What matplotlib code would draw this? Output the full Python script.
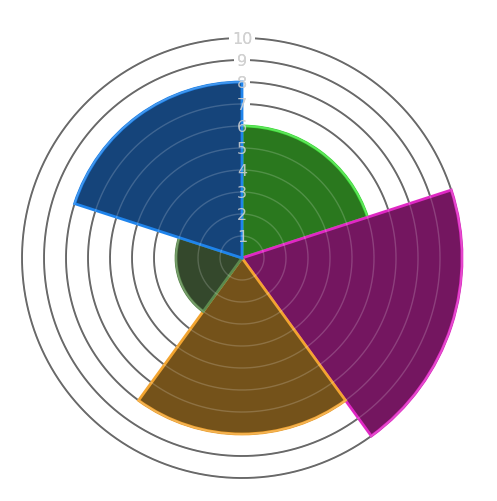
import numpy as np
import matplotlib.pyplot as plt

values = [6, 10, 8, 3, 8]
fill_colors = ['#2a781e', '#741660', '#74521a', '#34482c', '#15447a']
edge_colors = ['#3fe03a', '#e028c4', '#f2a430', '#5c8a4e', '#1f84ec']
ring_values = [1, 2, 3, 4, 5, 6, 7, 8, 9, 10]

fig = plt.figure(figsize=(4.97, 5.02), dpi=100)
ax = fig.add_axes([0.0443, 0.0458, 0.8853, 0.8765], projection='polar')
ax.set_theta_zero_location('N')
ax.set_theta_direction(-1)
ax.set_ylim(0, 10)
ax.grid(False)
ax.set_xticks([])
ax.set_yticks([])
ax.spines['polar'].set_visible(False)
ax.patch.set_visible(False)

n = len(values)
width = 2 * np.pi / n
thetas = np.arange(n) * width
circle_t = np.linspace(0, 2 * np.pi, 400)

# dark rings under the segments
for r in ring_values:
    ax.plot(circle_t, np.full_like(circle_t, r), color='#4a4a4a', lw=1.3, zorder=1, clip_on=False)

# label backdrops break the rings
for r in ring_values:
    ax.text(0, r, str(r), ha='center', va='center', fontsize=11.5, color='#c4c4c4', zorder=2,
            bbox=dict(boxstyle='square,pad=0.2', fc='white', ec='none'))

ax.bar(thetas, values, width=width, bottom=0, align='edge', color=fill_colors,
       edgecolor=edge_colors, linewidth=2.0, zorder=3, clip_on=False)

# light rings over the segments
for r in ring_values:
    ax.plot(circle_t, np.full_like(circle_t, r), color='white', alpha=0.18, lw=1.0, zorder=4, clip_on=False)

for r in ring_values:
    ax.text(0, r, str(r), ha='center', va='center', fontsize=11.5, color='#d4d4d4', alpha=0.85, zorder=5)

fig.savefig('out.png', dpi=100)
